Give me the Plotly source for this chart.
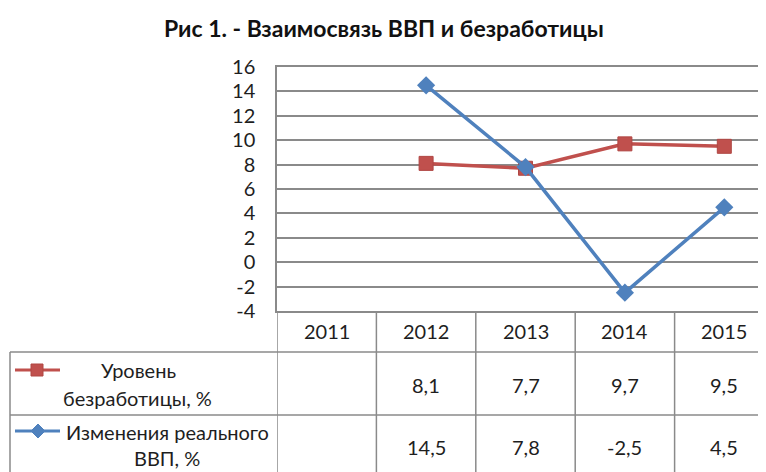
import plotly.graph_objects as go

# ---- data ----
years = ["2011", "2012", "2013", "2014", "2015"]
unemployment = [None, 8.1, 7.7, 9.7, 9.5]
gdp_change = [None, 14.5, 7.8, -2.5, 4.5]
series_names = ["Уровень безработицы, %", "Изменения реального ВВП, %"]
y_tick_vals = [-4, -2, 0, 2, 4, 6, 8, 10, 12, 14, 16]
y_tick_text = ["-4", "-2", "0", "2", "4", "6", "8", "10", "12", "14", "16"]
title_text = "Рис 1. - Взаимосвязь ВВП и безработицы"

# ---- layout geometry (reference-page pixels) ----
OFF = 8                      # default body margin of the html page
WIN_W, WIN_H = 766, 472
W, H = WIN_W - OFF, WIN_H - OFF
PLOT_L, PLOT_T, PLOT_B = 277, 67, 311   # plot area edges in page pixels
L = PLOT_L - OFF
T = PLOT_T - OFF
B = WIN_H - PLOT_B
R = 0
PW, PH = W - L - R, H - T - B
COL = 99.4

def PX(px):
    return (px - PLOT_L) / PW

def PY(py):
    return (PLOT_B - py) / PH

RED = "#C0504D"
RED_D = "#B04643"
BLUE = "#4F81BD"
GRID = "#8A8A8A"
TXT = "#1E1E1E"
FONT = "Lato"

x_idx = list(range(len(years)))

fig = go.Figure()
fig.add_trace(go.Scatter(
    x=x_idx, y=unemployment, mode="lines+markers", name=series_names[0],
    line=dict(color=RED, width=3.5),
    marker=dict(symbol="square", size=14, color=RED, line=dict(color=RED_D, width=1)),
    cliponaxis=False, showlegend=False))
fig.add_trace(go.Scatter(
    x=x_idx, y=gdp_change, mode="lines+markers", name=series_names[1],
    line=dict(color=BLUE, width=3.5),
    marker=dict(symbol="diamond", size=14, color=BLUE),
    cliponaxis=False, showlegend=False))

shapes = []
line_style = dict(color=GRID, width=1.5)
# table horizontal lines
for py in (352, 415):
    shapes.append(dict(type="line", xref="paper", yref="paper",
                       x0=PX(10), x1=PX(WIN_W + 2), y0=PY(py), y1=PY(py), line=line_style))
# table vertical lines between categories
for i in range(len(years)):
    xb = i - 0.5
    shapes.append(dict(type="line", xref="x", yref="paper",
                       x0=xb, x1=xb, y0=0, y1=PY(WIN_H + 5), line=line_style))
# left edge of legend column
shapes.append(dict(type="line", xref="paper", yref="paper",
                   x0=PX(10), x1=PX(10), y0=PY(352), y1=PY(WIN_H + 5), line=line_style))

# legend keys
ky1, ky2 = 370, 431
shapes.append(dict(type="line", xref="paper", yref="paper",
                   x0=PX(15), x1=PX(60), y0=PY(ky1), y1=PY(ky1),
                   line=dict(color=RED, width=3)))
s = 6
shapes.append(dict(type="rect", xref="paper", yref="paper",
                   x0=PX(37 - s), x1=PX(37 + s), y0=PY(ky1 + s), y1=PY(ky1 - s),
                   fillcolor=RED, line=dict(color=RED_D, width=1)))
shapes.append(dict(type="line", xref="paper", yref="paper",
                   x0=PX(15), x1=PX(60), y0=PY(ky2), y1=PY(ky2),
                   line=dict(color=BLUE, width=3)))
d = 7
cx = 38
path = (f"M {PX(cx)},{PY(ky2 - d)} L {PX(cx + d)},{PY(ky2)} "
        f"L {PX(cx)},{PY(ky2 + d)} L {PX(cx - d)},{PY(ky2)} Z")
shapes.append(dict(type="path", xref="paper", yref="paper", path=path,
                   fillcolor=BLUE, line=dict(color=BLUE, width=1)))

def fmt(v):
    return "" if v is None else f"{v:.1f}".replace(".", ",")

ann = []
tf = dict(family=FONT, size=20, color=TXT)
for i, yr in enumerate(years):
    ann.append(dict(x=i, y=PY(331), xref="x", yref="paper", text=yr,
                    showarrow=False, font=tf, xanchor="center", yanchor="middle"))
    ann.append(dict(x=i, y=PY(385), xref="x", yref="paper", text=fmt(unemployment[i]),
                    showarrow=False, font=tf, xanchor="center", yanchor="middle"))
    ann.append(dict(x=i, y=PY(447), xref="x", yref="paper", text=fmt(gdp_change[i]),
                    showarrow=False, font=tf, xanchor="center", yanchor="middle"))

leg_lines = [
    ("Уровень", 138, 370),
    ("безработицы, %", 137, 398),
    ("Изменения реального", 167, 432),
    ("ВВП, %", 167, 458),
]
for txt, px, py in leg_lines:
    ann.append(dict(x=PX(px), y=PY(py), xref="paper", yref="paper", text=txt,
                    showarrow=False, font=tf, xanchor="center", yanchor="middle"))

ann.append(dict(x=PX(384), y=PY(28), xref="paper", yref="paper",
                text=f"<b>{title_text}</b>", showarrow=False,
                font=dict(family=FONT, size=23, color="#111111"),
                xanchor="center", yanchor="middle"))

fig.update_layout(
    width=W, height=H,
    margin=dict(l=L, r=R, t=T, b=B, pad=0),
    paper_bgcolor="white", plot_bgcolor="white",
    shapes=shapes, annotations=ann,
    xaxis=dict(range=[-0.5, -0.5 + PW / COL], showgrid=False, zeroline=False,
               showticklabels=False, ticks="", showline=True, mirror=True,
               linecolor=GRID, linewidth=1.5, fixedrange=True),
    yaxis=dict(range=[-4, 16], tickvals=y_tick_vals, ticktext=y_tick_text,
               showgrid=True, gridcolor=GRID, gridwidth=1.5, zeroline=False,
               showline=True, linecolor=GRID, linewidth=1.5, ticks="",
               ticklabelstandoff=16, tickfont=dict(family=FONT, size=20, color=TXT),
               fixedrange=True),
    font=dict(family=FONT, color=TXT),
)

fig.write_html("out.html")
